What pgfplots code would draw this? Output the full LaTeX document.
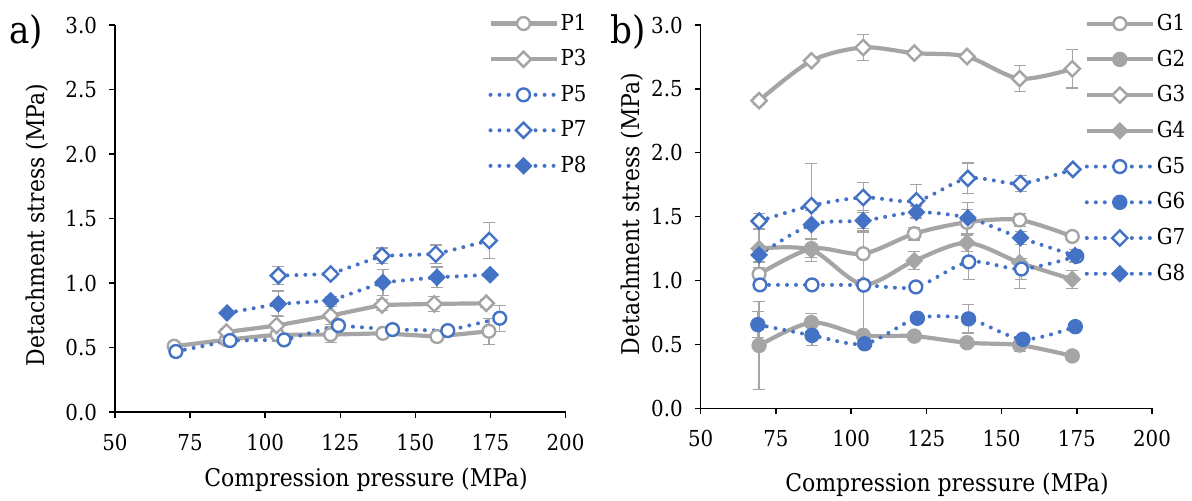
\documentclass[border=0pt]{standalone}
\usepackage{fontspec}
\setmainfont{DejaVu Serif Condensed}
\usepackage{pgfplots}
\usepackage{pgfplotstable}
\pgfplotsset{compat=1.18}
\definecolor{cblue}{HTML}{4472C4}
\definecolor{cgray}{HTML}{A5A5A5}

% x  y  err
\pgfplotstableread{
x y e
69.7 0.51 0.02
87.1 0.56 0.02
104.0 0.60 0.03
121.8 0.60 0.06
139.2 0.61 0.02
157.2 0.585 0.03
174.5 0.626 0.10
}\Pone
\pgfplotstableread{
x y e
87.1 0.62 0.03
103.8 0.67 0.08
121.8 0.747 0.07
138.9 0.83 0.04
156.3 0.838 0.06
173.6 0.843 0.03
}\Pthree
\pgfplotstableread{
x y e
70.3 0.469 0.04
88.3 0.554 0.02
106.3 0.559 0.02
124.4 0.67 0.03
142.4 0.639 0.02
160.8 0.631 0.02
178.1 0.727 0.10
}\Pfive
\pgfplotstableread{
x y e
104.4 1.057 0.068
121.8 1.07 0.03
138.9 1.211 0.06
156.8 1.224 0.07
174.6 1.329 0.14
}\Pseven
\pgfplotstableread{
x y e
87.3 0.768 0.02
104.4 0.838 0.10
121.8 0.863 0.03
139.2 1.005 0.10
157.2 1.044 0.08
174.9 1.064 0.02
}\Peight

\pgfplotstableread{
x y e
69.4 1.05 0.10
86.8 1.25 0.07
104.0 1.21 0.20
121.0 1.367 0.05
138.5 1.456 0.10
156.0 1.474 0.05
173.5 1.345 0.03
}\Gone
\pgfplotstableread{
x y e
69.4 0.492 0.345
86.8 0.671 0.07
104.0 0.571 0.02
121.0 0.565 0.02
138.5 0.513 0.02
156.0 0.495 0.05
173.5 0.41 0.02
}\Gtwo
\pgfplotstableread{
x y e
69.4 2.408 0.03
86.8 2.72 0.02
104.0 2.824 0.10
121.0 2.78 0.02
138.5 2.753 0.02
156.0 2.58 0.10
173.5 2.657 0.15
}\Gthree
\pgfplotstableread{
x y e
69.4 1.25 0.15
86.8 1.24 0.09
104.0 0.97 0.41
121.0 1.155 0.07
138.5 1.295 0.07
156.0 1.14 0.20
173.5 1.01 0.07
}\Gfour
\pgfplotstableread{
x y e
69.7 0.966 0.02
87.0 0.966 0.02
104.2 0.964 0.02
121.5 0.95 0.02
139.1 1.146 0.14
156.6 1.09 0.08
175.0 1.19 0.02
}\Gfive
\pgfplotstableread{
x y e
69.0 0.655 0.10
87.0 0.571 0.08
104.5 0.505 0.03
122.0 0.705 0.02
139.0 0.70 0.11
157.1 0.54 0.03
174.5 0.639 0.02
}\Gsix
\pgfplotstableread{
x y e
69.4 1.465 0.06
86.8 1.586 0.33
104.0 1.65 0.12
121.7 1.624 0.13
138.8 1.80 0.12
156.3 1.759 0.065
173.7 1.87 0.02
}\Gseven
\pgfplotstableread{
x y e
69.4 1.20 0.06
86.8 1.438 0.11
104.0 1.469 0.08
121.7 1.534 0.05
138.8 1.49 0.12
156.3 1.334 0.05
174.4 1.195 0.05
}\Geight

\pgfplotsset{
  common/.style={
    scale only axis, xmin=50, xmax=200, ymin=0, ymax=3,
    xtick={50,75,...,200}, ytick={0,0.5,...,3},
    axis x line*=bottom, axis y line*=left,
    tick align=outside, major tick length=3pt,
    every tick/.style={black, line width=0.7pt},
    axis line style={line width=0.7pt, black},
    /pgf/number format/assume math mode=true,
    y tick label style={/pgf/number format/fixed, /pgf/number format/fixed zerofill, /pgf/number format/precision=1, xshift=-2.5pt},
    x tick label style={yshift=-4.5pt},
    tick label style={font=\fontsize{11}{13}\selectfont},
    legend style={draw=none, fill=none, font=\fontsize{11}{13}\selectfont, row sep=6.2pt, inner sep=0pt,
      nodes={inner sep=1pt}},
    legend cell align=left,
    legend image code/.code={\draw[mark repeat=2, mark phase=2, ##1] plot coordinates {(0pt,0pt) (16.5pt,0pt) (33pt,0pt)};},
  },
  errs/.style={error bars/.cd, y dir=both, y explicit,
    error bar style={solid, line width=0.6pt, cgray},
    error mark options={rotate=90, mark size=3pt, cgray, line width=0.6pt, solid}},
  gs/.style={cgray, line width=2.1pt, solid},
  bd/.style={cblue, line width=2pt, line cap=round, dash pattern=on 0pt off 4.5pt},
  ocirc/.style={mark=*, mark size=3.2pt, mark options={solid, fill=white, draw=#1, line width=1.2pt}},
  fcirc/.style={mark=*, mark size=3.6pt, mark options={solid, fill=#1, draw=#1, line width=0.5pt}},
  odiam/.style={mark=square*, mark size=2.7pt, mark options={solid, rotate=45, fill=white, draw=#1, line width=1.2pt}},
  fdiam/.style={mark=square*, mark size=2.9pt, mark options={solid, rotate=45, fill=#1, draw=#1, line width=0.5pt}},
}

\begin{document}
\begin{tikzpicture}
\useasboundingbox (0,0) rectangle (596pt,250pt);

\begin{axis}[common, at={(57.5pt,44pt)}, anchor=south west, width=225.25pt, height=193.5pt,
  legend style={at={(rel axis cs:0.828,1.035)}, anchor=north west}]
\addplot[gs, ocirc=cgray] plot[errs] table[x=x, y=y, y error=e] {\Pone};
\addlegendentry{P1}
\addplot[gs, odiam=cgray] plot[errs] table[x=x, y=y, y error=e] {\Pthree};
\addlegendentry{P3}
\addplot[bd, ocirc=cblue] plot[errs] table[x=x, y=y, y error=e] {\Pfive};
\addlegendentry{P5}
\addplot[bd, odiam=cblue] plot[errs] table[x=x, y=y, y error=e] {\Pseven};
\addlegendentry{P7}
\addplot[bd, fdiam=cblue] plot[errs] table[x=x, y=y, y error=e] {\Peight};
\addlegendentry{P8}
\end{axis}

\begin{axis}[common, at={(350.35pt,45.85pt)}, anchor=south west, width=225.65pt, height=191.65pt,
  legend style={at={(rel axis cs:0.85,1.035)}, anchor=north west}]
\addplot[gs, smooth, tension=0.5, ocirc=cgray] plot[errs] table[x=x, y=y, y error=e] {\Gone};
\addlegendentry{G1}
\addplot[gs, smooth, tension=0.5, fcirc=cgray] plot[errs] table[x=x, y=y, y error=e] {\Gtwo};
\addlegendentry{G2}
\addplot[gs, smooth, tension=0.5, odiam=cgray] plot[errs] table[x=x, y=y, y error=e] {\Gthree};
\addlegendentry{G3}
\addplot[gs, smooth, tension=0.5, fdiam=cgray] plot[errs] table[x=x, y=y, y error=e] {\Gfour};
\addlegendentry{G4}
\addplot[bd, smooth, tension=0.5, ocirc=cblue] plot[errs] table[x=x, y=y, y error=e] {\Gfive};
\addlegendentry{G5}
\addplot[bd, smooth, tension=0.5, fcirc=cblue] plot[errs] table[x=x, y=y, y error=e] {\Gsix};
\addlegendentry{G6}
\addplot[bd, smooth, tension=0.5, odiam=cblue] plot[errs] table[x=x, y=y, y error=e] {\Gseven};
\addlegendentry{G7}
\addplot[bd, smooth, tension=0.5, fdiam=cblue] plot[errs] table[x=x, y=y, y error=e] {\Geight};
\addlegendentry{G8}
\end{axis}

\node[font=\fontsize{12.2}{14}\selectfont] at (183pt,10pt) {Compression pressure (MPa)};
\node[font=\fontsize{12.2}{14}\selectfont] at (473.5pt,7.5pt) {Compression pressure (MPa)};
\node[font=\fontsize{12.2}{14}\selectfont, rotate=90] at (18.5pt,137.5pt) {Detachment stress (MPa)};
\node[font=\fontsize{12.2}{14}\selectfont, rotate=90] at (316pt,143pt) {Detachment stress (MPa)};
\node[font=\fontsize{19}{21}\selectfont] at (13pt,234pt) {a)};
\node[font=\fontsize{19}{21}\selectfont] at (314pt,234pt) {b)};
\end{tikzpicture}
\end{document}
